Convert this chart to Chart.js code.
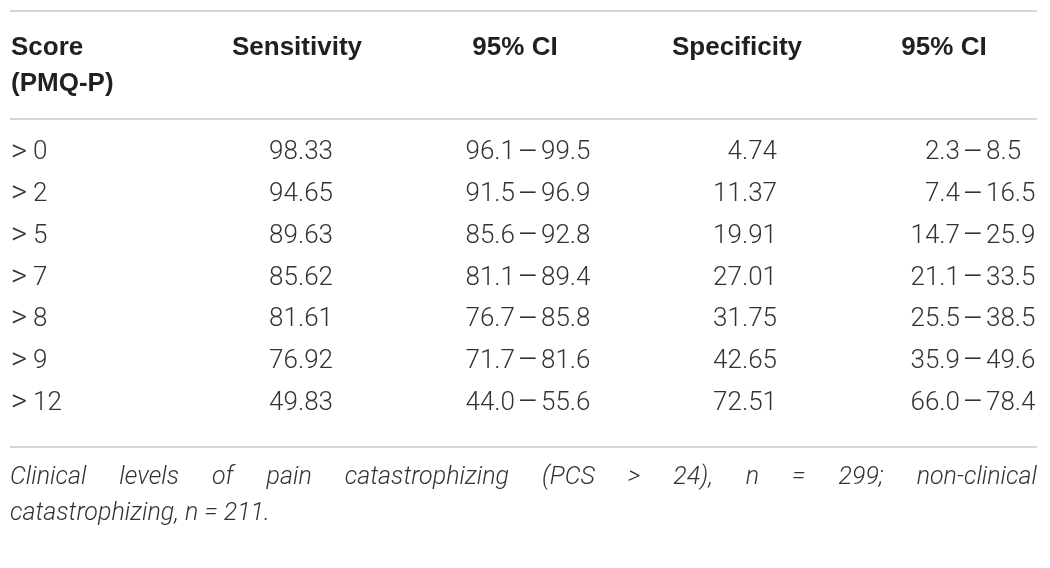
<!DOCTYPE html>
<html>
<head>
<meta charset="utf-8">
<script src="https://cdn.jsdelivr.net/npm/chart.js@4.4.0/dist/chart.umd.min.js"></script>
<style>
html, body { margin: 0; padding: 0; background: #fff; }
#wrap { width: 1050px; height: 568px; position: relative; }
</style>
</head>
<body>
<div id="wrap"><canvas id="table-chart"></canvas></div>
<script>
// Sensitivity / specificity of PMQ-P cut-off scores, drawn as a table

const scores = ['>0', '>2', '>5', '>7', '>8', '>9', '>12'];
const sensitivity = [98.33, 94.65, 89.63, 85.62, 81.61, 76.92, 49.83];
const sensLow = [96.1, 91.5, 85.6, 81.1, 76.7, 71.7, 44.0];
const sensHigh = [99.5, 96.9, 92.8, 89.4, 85.8, 81.6, 55.6];
const specificity = [4.74, 11.37, 19.91, 27.01, 31.75, 42.65, 72.51];
const specLow = [2.3, 7.4, 14.7, 21.1, 25.5, 35.9, 66.0];
const specHigh = [8.5, 16.5, 25.9, 33.5, 38.5, 49.6, 78.4];
const headers = [['Score', '(PMQ-P)'], ['Sensitivity'], ['95% CI'], ['Specificity'], ['95% CI']];
const footLines = [
  'Clinical levels of pain catastrophizing (PCS > 24), n = 299; non-clinical',
  'catastrophizing, n = 211.'
];

const HEAD_FONT = '"Liberation Sans", Arial, sans-serif';
const BODY_FONT = 'Roboto, "Liberation Sans", sans-serif';
const BODY = '300 26px ' + BODY_FONT;
const DASH = '300 32px ' + BODY_FONT;
const GT = '300 31px ' + BODY_FONT;
const left = 10, right = 1037;

// x anchors of the columns (on the x scale, 0..1050)
const headX = [11, 297, 515, 737, 944];
const cellX = [11, 333, 527, 777, 972];

function dashCell(ctx, x, y, lo, hi) {
  ctx.textAlign = 'right';
  ctx.fillText(lo, x - 12, y);
  ctx.textAlign = 'left';
  ctx.fillText(hi, x + 14, y);
  ctx.font = DASH;
  ctx.textAlign = 'center';
  ctx.fillText('\u2013', x + 1, y + 1);
  ctx.font = BODY;
}

const tablePlugin = {
  id: 'tableText',
  afterDraw(chart) {
    const { ctx, scales: { x, y } } = chart;
    const px = v => x.getPixelForValue(v);
    ctx.save();

    // rules
    ctx.strokeStyle = '#c9c9c9';
    ctx.lineWidth = 1.5;
    [11, 119, 447].forEach(ly => {
      ctx.beginPath();
      ctx.moveTo(px(left), ly);
      ctx.lineTo(px(right), ly);
      ctx.stroke();
    });

    // header
    ctx.fillStyle = '#231f20';
    ctx.font = 'bold 26px ' + HEAD_FONT;
    ctx.textBaseline = 'middle';
    headers.forEach((h, i) => {
      ctx.textAlign = i === 0 ? 'left' : 'center';
      h.forEach((t, k) => ctx.fillText(t, px(headX[i]), 48 + k * 36));
    });

    // body cells
    ctx.fillStyle = '#333';
    scores.forEach((s, i) => {
      const ry = y.getPixelForValue(i);
      ctx.textAlign = 'left';
      ctx.font = GT;
      ctx.fillText(s.charAt(0), px(cellX[0]), ry);
      ctx.font = BODY;
      ctx.fillText(s.slice(1), px(33), ry);
      ctx.textAlign = 'right';
      ctx.fillText(sensitivity[i].toFixed(2), px(cellX[1]), ry);
      dashCell(ctx, px(cellX[2]), ry, sensLow[i].toFixed(1), sensHigh[i].toFixed(1));
      ctx.textAlign = 'right';
      ctx.fillText(specificity[i].toFixed(2), px(cellX[3]), ry);
      dashCell(ctx, px(cellX[4]), ry, specLow[i].toFixed(1), specHigh[i].toFixed(1));
    });

    // footnote, first line justified
    ctx.font = 'italic 300 25px ' + BODY_FONT;
    ctx.textAlign = 'left';
    footLines.forEach((line, k) => {
      const ly = 478 + k * 36;
      if (k === footLines.length - 1) {
        ctx.fillText(line, px(left), ly);
        return;
      }
      const words = line.split(' ');
      const total = words.reduce((a, w) => a + ctx.measureText(w).width, 0);
      const gap = (px(right) - px(left) - total) / (words.length - 1);
      let cx = px(left);
      words.forEach(w => {
        ctx.fillText(w, cx, ly);
        cx += ctx.measureText(w).width + gap;
      });
    });

    ctx.restore();
  }
};

new Chart(document.getElementById('table-chart'), {
  type: 'scatter',
  data: {
    labels: scores,
    datasets: [{ data: [], pointRadius: 0 }]
  },
  options: {
    responsive: true,
    maintainAspectRatio: false,
    animation: false,
    layout: { padding: { top: 132, bottom: 144, left: 0, right: 0 } },
    plugins: { legend: { display: false }, tooltip: { enabled: false } },
    scales: {
      x: { type: 'linear', min: 0, max: 1050, display: false },
      y: { type: 'category', labels: scores, offset: true, display: false }
    }
  },
  plugins: [tablePlugin]
});
</script>
</body>
</html>
